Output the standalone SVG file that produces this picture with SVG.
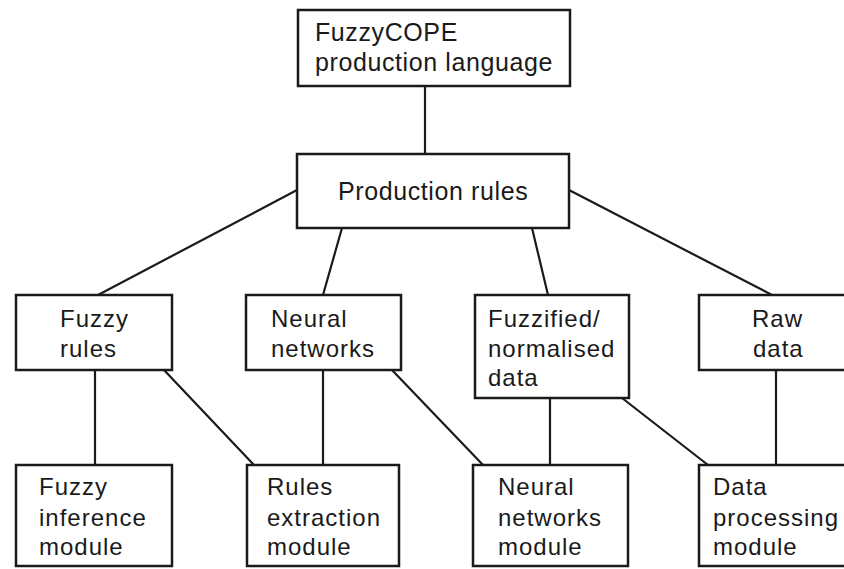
<svg xmlns="http://www.w3.org/2000/svg" width="844" height="569" viewBox="0 0 844 569">
<style>
.box{fill:#fff;stroke:#1a1a1a;stroke-width:2.5}
.t{font-family:"Liberation Sans",Arial,sans-serif;font-size:24px;letter-spacing:1px;fill:#1a1a1a}
.big{font-size:25px;letter-spacing:0.6px}
#connectors line{stroke:#1a1a1a;stroke-width:2.2;stroke-linecap:round}
</style>
<rect width="844" height="569" fill="#fff"/>
<g id="connectors">
<line x1="425" y1="86" x2="425" y2="154"/>
<line x1="297" y1="190" x2="98" y2="295"/>
<line x1="342" y1="228" x2="323" y2="295"/>
<line x1="532" y1="228" x2="548" y2="295"/>
<line x1="569" y1="190" x2="772" y2="295"/>
<line x1="95" y1="370" x2="95" y2="465"/>
<line x1="164" y1="370" x2="254" y2="465"/>
<line x1="323" y1="370" x2="323" y2="465"/>
<line x1="392" y1="370" x2="483" y2="465"/>
<line x1="550" y1="398" x2="550" y2="465"/>
<line x1="622" y1="398" x2="708" y2="465"/>
<line x1="776" y1="370" x2="776" y2="465"/>
</g>
<g id="fuzzycope">
<rect class="box" x="298" y="10" width="272" height="76"/>
<text class="t big" x="315" y="41">FuzzyCOPE</text>
<text class="t big" x="315" y="71">production language</text>
</g>
<g id="production-rules">
<rect class="box" x="297" y="154" width="272" height="74"/>
<text class="t big" x="338" y="200">Production rules</text>
</g>
<g id="fuzzy-rules">
<rect class="box" x="16" y="295" width="156" height="75"/>
<text class="t" x="60" y="327">Fuzzy</text>
<text class="t" x="60" y="357">rules</text>
</g>
<g id="neural-networks">
<rect class="box" x="246" y="295" width="155" height="75"/>
<text class="t" x="271" y="327">Neural</text>
<text class="t" x="271" y="357">networks</text>
</g>
<g id="fuzzified-data">
<rect class="box" x="475" y="295" width="154" height="103"/>
<text class="t" x="488" y="327">Fuzzified/</text>
<text class="t" x="488" y="357">normalised</text>
<text class="t" x="488" y="386">data</text>
</g>
<g id="raw-data">
<rect class="box" x="699" y="295" width="156" height="75"/>
<text class="t" x="752" y="327">Raw</text>
<text class="t" x="753" y="357">data</text>
</g>
<g id="fuzzy-inference-module">
<rect class="box" x="16" y="465" width="156" height="101"/>
<text class="t" x="39" y="495">Fuzzy</text>
<text class="t" x="39" y="526">inference</text>
<text class="t" x="39" y="555">module</text>
</g>
<g id="rules-extraction-module">
<rect class="box" x="247" y="465" width="152" height="101"/>
<text class="t" x="267" y="495">Rules</text>
<text class="t" x="267" y="526">extraction</text>
<text class="t" x="267" y="555">module</text>
</g>
<g id="neural-networks-module">
<rect class="box" x="473" y="465" width="155" height="101"/>
<text class="t" x="498" y="495">Neural</text>
<text class="t" x="498" y="526">networks</text>
<text class="t" x="498" y="555">module</text>
</g>
<g id="data-processing-module">
<rect class="box" x="699" y="465" width="156" height="101"/>
<text class="t" x="713" y="495">Data</text>
<text class="t" x="713" y="526">processing</text>
<text class="t" x="713" y="555">module</text>
</g>
</svg>
